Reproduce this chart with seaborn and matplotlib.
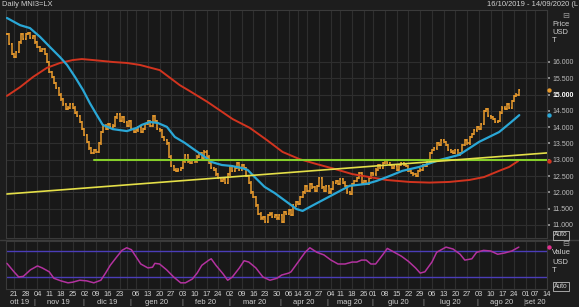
import numpy as np
import pandas as pd
import matplotlib
matplotlib.use("Agg")
import matplotlib.pyplot as plt
import matplotlib.transforms as mtransforms
from matplotlib.collections import LineCollection
from matplotlib import font_manager
import seaborn as sns

# ---------------- data ----------------
first_day = "2019-10-16"
last_axis_day = "2020-09-14"
market_holidays = ["2019-12-25", "2019-12-26", "2020-01-01", "2020-04-10",
                   "2020-04-13", "2020-05-08", "2020-05-25", "2020-08-31"]

# daily close, USD/t (one value per trading day from 16 Oct 2019)
close_usd = [
    16850, 16550, 16250, 16150, 16300, 16600, 16850, 16700, 16850, 16900,
    16750, 16800, 16600, 16450, 16350, 16400, 16250, 16000, 15700, 15550,
    15350, 15200, 15000, 14850, 14700, 14550, 14600, 14700, 14600, 14450,
    14350, 14150, 13950, 13750, 13550, 13350, 13200, 13300, 13250, 13500,
    13850, 14050, 13950, 14100, 14000, 14050, 14300, 14400, 14200, 14300,
    14150, 14050, 14200, 13950, 13850, 13900, 14000, 13850, 13950, 14100,
    14200, 14050, 14350, 14200, 13950, 13900, 13700, 13600, 13500, 13100,
    12800, 12700, 12650, 12700, 12750, 12950, 13150, 12950, 12900, 13000,
    12950, 13100, 13200, 13050, 13250, 13100, 12900, 12750, 12700, 12550,
    12450, 12350, 12400, 12300, 12550, 12800, 12650, 12750, 12900, 12700,
    12850, 12750, 12500, 12300, 12000, 11850, 11600, 11350, 11200, 11250,
    11100, 11300, 11350, 11250, 11300, 11200, 11300, 11100, 11400, 11350,
    11450, 11300, 11600, 11700, 11650, 11850, 12000, 12200, 12050, 12250,
    12150, 12050, 12200, 12450, 12150, 12050, 12200, 12000, 12100, 12300,
    12350, 12250, 12400, 12300, 12200, 12000, 11950, 12250, 12350, 12450,
    12600, 12300, 12350, 12250, 12450, 12600, 12550, 12700, 12850, 12750,
    12900, 13000, 12900, 12850, 12750, 12800, 12700, 12850, 12900, 12850,
    12800, 12650, 12600, 12550, 12500, 12650, 12700, 12850, 12800, 12950,
    13200, 13300, 13350, 13500, 13450, 13600, 13550, 13450, 13300, 13250,
    13200, 13300, 13150, 13200, 13450, 13600, 13500, 13700, 13800, 13900,
    14000, 13950, 14100, 14500, 14550, 14350, 14300, 14250, 14150, 14200,
    14450, 14600, 14550, 14700, 14600, 14800, 14950, 15000, 15150,
]

# fast moving average (blue), read at trading-day numbers
fast_ma_day = [0, 5.6, 9.8, 14.1, 18.3, 22.6, 25.6, 29, 32.4, 35.3, 38.3, 40.8,
               45.1, 51.1, 55.3, 57.4, 60.8, 64.2, 68.1, 71.5, 75.7, 80, 84.2,
               87.2, 91.5, 95.7, 99.9, 102.5, 105.5, 109.7, 114, 117.4, 123.3,
               125.9, 129.7, 133.1, 138.6, 145.9, 153.1, 157.4, 162.9, 168.4,
               175.6, 184.1, 192.6, 201.1, 209.6, 214.8, 218.2]
fast_ma_usd = [17350, 17130, 17040, 16770, 16460, 16150, 15910, 15540, 15140,
               14740, 14370, 14070, 13940, 13880, 13980, 14070, 14160, 14130,
               14010, 13700, 13520, 13300, 13090, 12930, 12840, 12810, 12750,
               12690, 12470, 12170, 11980, 11800, 11490, 11430, 11580, 11710,
               11920, 12200, 12260, 12350, 12500, 12660, 12780, 12990, 13150,
               13550, 13850, 14160, 14370]

# slow moving average (red)
slow_ma_day = [0, 5.6, 11.1, 17.0, 22.6, 28.1, 31.9, 36.6, 45.1, 51.1, 56.6,
               65.1, 73.6, 77.8, 85.5, 96.1, 103.4, 110.6, 117.4, 124.6, 131.8,
               139.5, 147.1, 154.4, 161.6, 171.4, 179.9, 188.4, 196.9, 203.2,
               209.6, 213.9, 217.7]
slow_ma_usd = [14960, 15230, 15540, 15820, 15970, 16060, 16090, 16060, 16000,
               15970, 15910, 15750, 15290, 15110, 14770, 14250, 13980, 13610,
               13240, 13020, 12870, 12720, 12560, 12470, 12380, 12320, 12300,
               12320, 12380, 12470, 12660, 12780, 12960]

# oscillator (lower panel)
osc_day = [0, 3, 5, 7, 10, 13, 15, 18, 20, 23, 26, 28, 31, 34, 37, 40, 42, 44,
           47, 49, 51, 53, 55, 57, 60, 62, 63, 65, 68, 71, 74, 76, 79, 81, 83,
           86, 87, 89, 92, 94, 96, 99, 101, 103, 106, 109, 112, 115, 117, 120,
           121, 124, 127, 129, 132, 135, 138, 141, 144, 147, 149, 151, 153,
           155, 157, 160, 162, 165, 168, 171, 174, 176, 178, 181, 183, 187,
           190, 193, 195, 198, 200, 203, 206, 209, 212, 215, 217, 218]
osc_value = [51, 38, 30, 31, 41, 47, 44, 38, 28, 24, 21, 22, 25, 24, 21, 25,
             36, 48, 62, 71, 75, 72, 61, 50, 44, 45, 51, 50, 41, 30, 21, 21,
             27, 36, 48, 56, 58, 48, 35, 25, 30, 44, 55, 53, 44, 30, 25, 28,
             33, 36, 38, 53, 68, 75, 68, 64, 56, 50, 50, 53, 53, 56, 56, 50,
             50, 64, 74, 68, 62, 54, 44, 36, 38, 53, 68, 76, 73, 65, 56, 58,
             68, 71, 70, 65, 67, 70, 74, 76]
osc_bands = [70, 30]

support_usd = 13000
support_from = "2019-12-06"
trend_from = ("2019-10-16", 11950)
trend_to = ("2020-09-14", 13210)

price_ticks = [11000, 11500, 12000, 12500, 13000, 13500, 14000, 14500,
               15000, 15500, 16000]
month_abbr = ["gen", "feb", "mar", "apr", "mag", "giu", "lug", "ago", "set",
              "ott", "nov", "dic"]
hidden_week_labels = ["2019-12-30"]

# ---------------- style ----------------
BG = "#1d1d1d"
PANEL = "#181818"
GRID = "#2e2e2e"
TXT = "#d2d2d2"
ORANGE = "#e99b2d"
BLUE = "#2aa7d6"
RED = "#d2341f"
GREEN = "#86cf2a"
YELLOW = "#e4df48"
MAGENTA = "#b3329f"
PURPLE = "#4b3db8"

sns.set_theme(style="dark", rc={"axes.facecolor": PANEL, "figure.facecolor": BG,
                                "grid.color": GRID, "axes.edgecolor": "#3a3a3a"})
installed = {f.name for f in font_manager.fontManager.ttflist}
if "Liberation Sans Narrow" in installed:
    FAM = ["Liberation Sans Narrow", "DejaVu Sans"]
    FS = 6.2
else:
    FAM = ["Liberation Sans", "DejaVu Sans"]
    FS = 5.4
plt.rcParams["font.family"] = FAM

W, H = 579, 307
fig = plt.figure(figsize=(W / 100, H / 100), dpi=100)
fig.patch.set_facecolor(BG)

def fx(px):
    return px / W

def fy(py):
    return 1 - py / H

ax = fig.add_axes([fx(6), fy(238), fx(547) - fx(6), fy(10) - fy(238)])
ax2 = fig.add_axes([fx(6), fy(289), fx(547) - fx(6), fy(241) - fy(289)], sharex=ax)

# trading calendar -> positions
days = pd.bdate_range(first_day, last_axis_day, freq="C", holidays=market_holidays)
pos = pd.Series(np.arange(len(days)), index=days)
xmax = pos[pd.Timestamp(last_axis_day)] - 0.4

# ---- price bars (OHLC style, open = previous close) ----
closes = np.array(close_usd, dtype=float)
opens = np.r_[closes[0], closes[:-1]]
xi = np.arange(len(closes))
segs = []
for x, o, c in zip(xi, opens, closes):
    lo, hi = min(o, c) - 35, max(o, c) + 35
    segs.append([(x, lo), (x, hi)])
    segs.append([(x - 0.45, o), (x, o)])
    segs.append([(x, c), (x + 0.45, c)])
ax.add_collection(LineCollection(segs, colors=ORANGE, linewidths=1.1, zorder=3))

# ---- lines via seaborn ----
df_fast = pd.DataFrame({"day": fast_ma_day, "v": fast_ma_usd})
df_slow = pd.DataFrame({"day": slow_ma_day, "v": slow_ma_usd})
sns.lineplot(data=df_slow, x="day", y="v", ax=ax, color=RED, linewidth=1.4,
             estimator=None, sort=False, zorder=4)
sns.lineplot(data=df_fast, x="day", y="v", ax=ax, color=BLUE, linewidth=1.6,
             estimator=None, sort=False, zorder=5)

sup_x = [pos[pd.Timestamp(support_from)], xmax + 1]
sns.lineplot(x=sup_x, y=[support_usd, support_usd], ax=ax, color=GREEN,
             linewidth=1.5, estimator=None, zorder=6)
tr_x = [pos[pd.Timestamp(trend_from[0])], pos[pd.Timestamp(trend_to[0])]]
sns.lineplot(x=tr_x, y=[trend_from[1], trend_to[1]], ax=ax, color=YELLOW,
             linewidth=1.2, estimator=None, zorder=6)

# ---- oscillator ----
df_osc = pd.DataFrame({"day": osc_day, "v": osc_value})
for b in osc_bands:
    ax2.axhline(b, color=PURPLE, linewidth=1.0, zorder=2)
sns.lineplot(data=df_osc, x="day", y="v", ax=ax2, color=MAGENTA, linewidth=1.1,
             estimator=None, sort=False, zorder=4)

# ---- axes ----
ax.set_xlim(-0.4, xmax)
ax.set_ylim(10600, 17595)
ax2.set_ylim(11.5, 85.4)

# weekly ticks: first trading day of each week (Mon, or Tue after holiday)
wk = days.to_series().groupby(days.to_period("W")).first()
wk = wk[wk.dt.weekday <= 1]
week_pos = [pos[d] for d in wk]
week_lab = ["" if d.strftime("%Y-%m-%d") in hidden_week_labels else d.strftime("%d")
            for d in wk]

for a in (ax, ax2):
    a.set_xticks(week_pos)
    a.grid(True, axis="x", color=GRID, linewidth=0.8)
    a.set_xlabel("")
    a.set_ylabel("")
    for s in a.spines.values():
        s.set_color("#3a3a3a")
        s.set_linewidth(0.8)
ax.grid(True, axis="y", color=GRID, linewidth=0.8)
ax2.grid(False, axis="y")
ax.tick_params(axis="x", length=0, labelbottom=False)
ax2.set_xticklabels(week_lab)
ax2.tick_params(axis="x", length=2.5, direction="inout", color="#9a9a9a",
                labelsize=FS, labelcolor=TXT, pad=0.4)

ax.yaxis.tick_right()
ax.set_yticks(price_ticks)
ax.set_yticklabels([f"{v:,.0f}".replace(",", ".") for v in price_ticks])
ax.tick_params(axis="y", length=2.5, color="#9a9a9a", labelsize=FS - 0.4,
               labelcolor="#bdbdbd", pad=1.2)
for t in ax.get_yticklabels():
    if t.get_text() == "15.000":
        t.set_color("white")
        t.set_fontweight("bold")
ax2.set_yticks([])

# month labels and separators
month_first = days.to_series().groupby(days.to_period("M")).first()
bounds = [pos[d] - 0.5 for d in month_first]
bounds[0] = -0.4
bounds.append(xmax)
trans = mtransforms.blended_transform_factory(ax2.transData, fig.transFigure)
for i, d in enumerate(month_first):
    cx = (bounds[i] + bounds[i + 1]) / 2
    lab = f"{month_abbr[d.month - 1]} {d.strftime('%y')}"
    ax2.text(cx, fy(302.5), lab, transform=trans, ha="center", va="center",
             fontsize=FS, color=TXT, clip_on=False)
    if i > 0:
        ax2.text(bounds[i], fy(302), "|", transform=trans, ha="center",
                 va="center", fontsize=FS, color="#9a9a9a", clip_on=False)

# last-value dots on right edge
tr_main = mtransforms.blended_transform_factory(ax.transAxes, ax.transData)
for v, c in [(close_usd[-1], ORANGE), (fast_ma_usd[-1], BLUE),
             (slow_ma_usd[-1], RED)]:
    ax.scatter([1.004], [v], transform=tr_main, s=10, color=c, clip_on=False,
               zorder=10, linewidths=0)
tr_low = mtransforms.blended_transform_factory(ax2.transAxes, ax2.transData)
ax2.scatter([1.004], [osc_value[-1]], transform=tr_low, s=10, color="#e0308f",
            clip_on=False, zorder=10, linewidths=0)

# ---- texts ----
fig.text(fx(2), fy(4.5), "Daily MNI3=LX", fontsize=FS, color=TXT, va="center")
fig.text(fx(578), fy(4.5), "16/10/2019 - 14/09/2020 (L", fontsize=FS,
         color=TXT, va="center", ha="right")
for lab, y in [("Price", 24), ("USD", 32.5), ("T", 41)]:
    fig.text(fx(552), fy(y), lab, fontsize=FS, color=TXT, va="center")
for lab, y in [("Value", 253), ("USD", 262), ("T", 271)]:
    fig.text(fx(552), fy(y), lab, fontsize=FS, color=TXT, va="center")
for y in (235, 286):
    fig.text(fx(554), fy(y), "Auto", fontsize=FS - 0.6, color=TXT, va="center",
             bbox=dict(boxstyle="square,pad=0.15", fc="none", ec="#bbbbbb", lw=0.6))
for y in (15, 243):
    fig.text(fx(566), fy(y), "\u229f", fontsize=6, color="#9a9a9a",
             va="center", ha="center", family="DejaVu Sans")

fig.add_artist(plt.Line2D([fx(0), fx(579)], [fy(239.5), fy(239.5)],
                          color="#3c3c3c", linewidth=1.0))

fig.savefig("out.png", dpi=100, facecolor=BG)
